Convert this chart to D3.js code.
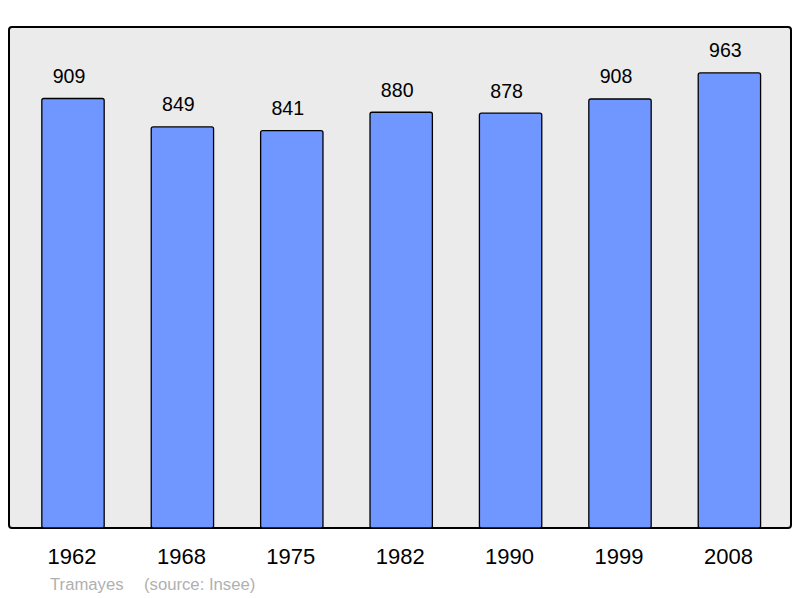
<!DOCTYPE html>
<html><head><meta charset="utf-8">
<script src="https://cdn.jsdelivr.net/npm/d3@7"></script>
<style>body{margin:0;background:#fff}svg{display:block}text{font-family:"Liberation Sans",Arial,sans-serif}</style>
</head><body>
<svg id="c" width="800" height="598"></svg>
<script>
const years = ["1962","1968","1975","1982","1990","1999","2008"];
const population = [909,849,841,880,878,908,963];
const commune = "Tramayes";
const source = "(source: Insee)";

const svg = d3.select("#c");
const frame = {x0:9, y0:27, x1:791, y1:528};
svg.append("rect").attr("x",frame.x0).attr("y",frame.y0)
  .attr("width",frame.x1-frame.x0).attr("height",frame.y1-frame.y0)
  .attr("rx",3).attr("fill","#ebebeb").attr("stroke","#000").attr("stroke-width",2);

const x = d3.scaleBand().domain(years).range([18.3, 784.1]).paddingInner(0.43).paddingOuter(0.215);
const y = d3.scaleLinear().domain([0,1060]).range([529,27]);

svg.selectAll("rect.bar").data(population).enter().append("rect")
  .attr("class","bar")
  .attr("x",(d,i)=>x(years[i]))
  .attr("y",d=>y(d))
  .attr("width",x.bandwidth())
  .attr("height",d=>frame.y1-y(d))
  .attr("rx",2)
  .attr("fill","#7096ff").attr("stroke","#000").attr("stroke-width",1.3);

svg.selectAll("text.val").data(population).enter().append("text")
  .attr("x",(d,i)=>x(years[i])+x.bandwidth()/2-4)
  .attr("y",d=>y(d)-15.5)
  .attr("text-anchor","middle").attr("font-size",19.6).attr("fill","#000")
  .text(d=>d);

svg.selectAll("text.yr").data(years).enter().append("text")
  .attr("x",d=>x(d)+x.bandwidth()/2-1)
  .attr("y",564)
  .attr("text-anchor","middle").attr("font-size",22).attr("fill","#000")
  .text(d=>d);

svg.append("text").attr("x",50).attr("y",590).attr("font-size",16.7).attr("fill","#b0b0b0").text(commune);
svg.append("text").attr("x",144).attr("y",590).attr("font-size",16.7).attr("fill","#b0b0b0").text(source);
</script>
</body></html>
